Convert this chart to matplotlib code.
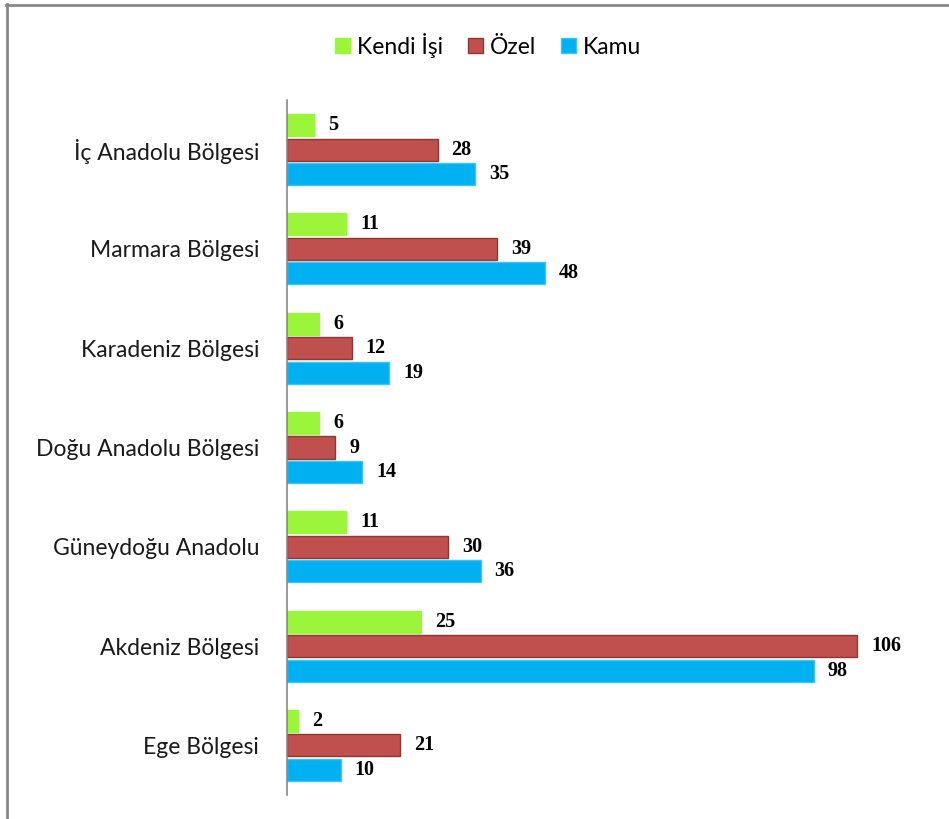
import numpy as np
import matplotlib.pyplot as plt
from matplotlib.lines import Line2D
from matplotlib.patches import Patch

regions = ['İç Anadolu Bölgesi', 'Marmara Bölgesi', 'Karadeniz Bölgesi',
           'Doğu Anadolu Bölgesi', 'Güneydoğu Anadolu', 'Akdeniz Bölgesi',
           'Ege Bölgesi']
kendi_isi = [5, 11, 6, 6, 11, 25, 2]
ozel = [28, 39, 12, 9, 30, 106, 21]
kamu = [35, 48, 19, 14, 36, 98, 10]

series_names = ['Kendi İşi', 'Özel', 'Kamu']
colors = ['#9BF53A', '#C0504D', '#00B0F0']
edges = ['#9BF53A', '#8C3836', '#3CC4F5']

plt.rcParams['font.family'] = ['Lato', 'DejaVu Sans']

W, H, DPI = 949, 819, 100
fig = plt.figure(figsize=(W / DPI, H / DPI), dpi=DPI)

x0, y_top, y_bot = 287, 100, 795
xmax = 115
px_per_unit = 5.377
ax = fig.add_axes([x0 / W, 1 - y_bot / H, xmax * px_per_unit / W, (y_bot - y_top) / H])

y = np.arange(len(regions))
step = 0.247
height = 0.222
for i, (vals, c, ec) in enumerate(zip([kendi_isi, ozel, kamu], colors, edges)):
    pos = y + (i - 1) * step
    ax.barh(pos, vals, height=height, color=c, edgecolor=ec, linewidth=1.0)
    for p, v in zip(pos, vals):
        ax.annotate(str(v), (v, p), xytext=(14, 0), textcoords='offset pixels',
                    ha='left', va='center', fontsize=14.5, fontweight='bold',
                    family='Liberation Serif', color='black')

ax.set_xlim(0, xmax)
ax.set_ylim(len(regions) - 0.5, -0.5)
ax.set_yticks(y)
ax.set_yticklabels(regions, fontsize=16.5, color='#1a1a1a')
ax.tick_params(axis='y', length=0, pad=20)
ax.set_xticks([])
for s in ['top', 'right', 'bottom']:
    ax.spines[s].set_visible(False)
ax.spines['left'].set_color('#888888')
ax.spines['left'].set_linewidth(1.2)

handles = [Patch(facecolor=c, edgecolor=ec) for c, ec in zip(colors, edges)]
fig.legend(handles, series_names, loc='center', bbox_to_anchor=(488 / W, 1 - 45 / H),
           ncol=3, frameon=False, fontsize=16.5, handlelength=0.65, handleheight=0.65,
           handletextpad=0.3, columnspacing=1.1)

# outer frame, top and left edges only
fig.add_artist(Line2D([6 / W, 1], [1 - 5 / H, 1 - 5 / H], color='#888888', linewidth=2))
fig.add_artist(Line2D([7 / W, 7 / W], [0, 1 - 4 / H], color='#888888', linewidth=2))

fig.savefig('out.png', dpi=DPI, facecolor='white')
